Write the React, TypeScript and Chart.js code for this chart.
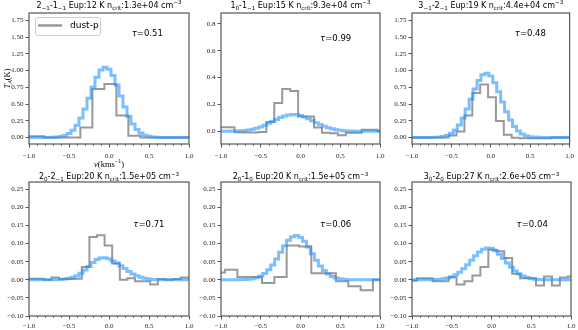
import React, { useEffect, useRef } from "react";
import { Chart, registerables } from "chart.js";

Chart.register(...registerables);

const W = 578;
const H = 330;

// ---------------- data ----------------
const upperJ = ["2", "1", "3", "2", "2", "3"];
const upperK = ["−1", "0", "−1", "0", "0", "0"];
const lowerJ = ["1", "1", "2", "2", "1", "2"];
const lowerK = ["−1", "−1", "−1", "−1", "0", "0"];
const eupK = ["12", "15", "19", "20", "20", "27"];
const nCrit = ["1.3e+04", "9.3e+04", "4.4e+04", "1.5e+05", "1.5e+05", "2.6e+05"];
const tauLabels = ["0.51", "0.99", "0.48", "0.71", "0.06", "0.04"];
const legendLabel = "dust-p";

const xTickValues = [-1.0, -0.5, 0.0, 0.5, 1.0];
const xMinorValues = [-0.9, -0.8, -0.7, -0.6, -0.4, -0.3, -0.2, -0.1, 0.1, 0.2, 0.3, 0.4, 0.6, 0.7, 0.8, 0.9];
const yTicksLarge = [0, 0.25, 0.5, 0.75, 1.0, 1.25, 1.5, 1.75];
const yTicksMid = [0, 0.2, 0.4, 0.6, 0.8];
const yTicksSmall = [-0.1, -0.05, 0, 0.05, 0.1, 0.15, 0.2, 0.25];

// model (blue) velocity grid, km/s
const modelVel = [
  -1.0, -0.95, -0.9, -0.85, -0.8, -0.75, -0.7, -0.65, -0.6, -0.55, -0.5,
  -0.45, -0.4, -0.35, -0.3, -0.25, -0.2, -0.15, -0.1, -0.05, 0.0,
  0.05, 0.1, 0.15, 0.2, 0.25, 0.3, 0.35, 0.4, 0.45, 0.5,
  0.55, 0.6, 0.65, 0.7, 0.75, 0.8, 0.85, 0.9, 0.95, 1.0,
];
const model1 = [0, 0, 0, 0, 0, 0.001, 0.003, 0.007, 0.015, 0.031, 0.06, 0.108, 0.183, 0.29, 0.427, 0.587, 0.753, 0.901, 1.007, 1.05, 1.021, 0.927, 0.785, 0.62, 0.457, 0.315, 0.202, 0.121, 0.068, 0.035, 0.017, 0.008, 0.003, 0.001, 0, 0, 0, 0, 0, 0, 0];
const model2 = [0.0002, 0.0004, 0.0007, 0.0013, 0.0022, 0.0038, 0.0064, 0.0101, 0.0156, 0.023, 0.0326, 0.0443, 0.058, 0.0728, 0.0878, 0.1019, 0.1135, 0.1215, 0.125, 0.1234, 0.1171, 0.1069, 0.0936, 0.0788, 0.0638, 0.0496, 0.037, 0.0266, 0.0183, 0.0121, 0.0077, 0.0047, 0.0028, 0.0015, 0.0008, 0.0004, 0, 0, 0, 0, 0];
const model3 = [0, 0, 0, 0, 0, 0, 0.003, 0.007, 0.016, 0.033, 0.063, 0.113, 0.188, 0.292, 0.424, 0.573, 0.723, 0.852, 0.936, 0.96, 0.918, 0.819, 0.682, 0.53, 0.385, 0.26, 0.164, 0.097, 0.053, 0.027, 0.013, 0.006, 0.0025, 0.001, 0, 0, 0, 0, 0, 0, 0];
const model4 = [0, 0, 0, 0, 0, 0, 0, 0, 0.001, 0.002, 0.004, 0.007, 0.011, 0.018, 0.027, 0.037, 0.048, 0.056, 0.06, 0.061, 0.058, 0.052, 0.046, 0.039, 0.031, 0.023, 0.016, 0.011, 0.007, 0.004, 0.002, 0.001, 0, 0, 0, 0, 0, 0, 0, 0, 0];
const model5 = [0, 0, 0, 0, 0, 0, 0.0007, 0.0015, 0.003, 0.0057, 0.0103, 0.0174, 0.0276, 0.0411, 0.0576, 0.0759, 0.0938, 0.109, 0.119, 0.122, 0.1175, 0.1063, 0.0904, 0.0722, 0.0541, 0.0381, 0.0253, 0.0157, 0.0092, 0.005, 0.0026, 0.0013, 0, 0, 0, 0, 0, 0, 0, 0, 0];
const model6 = [0, 0, 0, 0, 0, 0, 0.0007, 0.0014, 0.0027, 0.0049, 0.0084, 0.0136, 0.0208, 0.0303, 0.0415, 0.0539, 0.0662, 0.0769, 0.0846, 0.088, 0.0864, 0.0804, 0.0708, 0.0589, 0.0464, 0.0346, 0.0244, 0.0162, 0.0102, 0.0061, 0.0034, 0.0018, 0.0009, 0, 0, 0, 0, 0, 0, 0, 0];

// observed (grey) channel centres and brightness
const obsVel1 = [-1.033, -0.883, -0.733, -0.583, -0.433, -0.283, -0.133, 0.017, 0.167, 0.317, 0.467, 0.617, 0.767, 0.917, 1.067];
const obsT1 = [0.02, 0.02, 0.0, 0.0, 0.0, 0.15, 0.725, 0.8, 0.33, 0.025, 0.0, 0.0, 0.0, 0.0, 0.0];
const obsVel2 = [-1.08, -0.98, -0.88, -0.78, -0.68, -0.58, -0.48, -0.38, -0.28, -0.18, -0.08, 0.02, 0.12, 0.22, 0.32, 0.42, 0.52, 0.62, 0.72, 0.82, 0.92, 1.02];
const obsT2 = [0.03, 0.03, 0.03, -0.008, -0.01, -0.01, -0.005, 0.07, 0.21, 0.315, 0.3, 0.11, 0.11, 0.028, -0.012, -0.015, -0.03, -0.012, -0.012, 0.012, 0.012, 0.0];
const obsVel3 = [-1.085, -0.985, -0.885, -0.785, -0.685, -0.585, -0.485, -0.385, -0.285, -0.185, -0.085, 0.015, 0.115, 0.215, 0.315, 0.415, 0.515, 0.615, 0.715, 0.815, 0.915, 1.015];
const obsT3 = [0, 0, 0, 0, 0, 0, 0.03, 0.09, 0.33, 0.665, 0.79, 0.6, 0.245, 0.04, -0.005, -0.01, -0.01, -0.01, -0.01, 0, 0, 0];
const obsVel4 = [-1.0525, -0.9575, -0.8625, -0.7675, -0.6725, -0.5775, -0.4825, -0.3875, -0.2925, -0.1975, -0.1025, -0.0075, 0.0875, 0.1825, 0.2775, 0.3725, 0.4675, 0.5625, 0.6575, 0.7525, 0.8475, 0.9425, 1.0375];
const obsT4 = [0.003, 0.003, 0.003, 0.0, 0.006, 0.002, 0.002, 0.003, 0.035, 0.118, 0.123, 0.095, 0.045, 0.0, 0.004, -0.004, -0.004, -0.013, 0.002, 0.0, 0.002, 0.006, 0.006];
const obsVel5 = [-1.0265, -0.8715, -0.7165, -0.5615, -0.4065, -0.2515, -0.0965, 0.0585, 0.2135, 0.3685, 0.5235, 0.6785, 0.8335, 0.9885, 1.1435];
const obsT5 = [0.02, 0.028, 0.0075, 0.0075, -0.009, 0.0075, 0.095, 0.092, 0.018, 0.018, -0.004, -0.018, -0.029, 0.0, 0.0];
const obsVel6 = [-1.09, -0.99, -0.89, -0.79, -0.69, -0.59, -0.49, -0.39, -0.29, -0.19, -0.09, 0.01, 0.11, 0.21, 0.31, 0.41, 0.51, 0.61, 0.71, 0.81, 0.91, 1.01];
const obsT6 = [-0.003, -0.003, 0.004, 0.004, -0.004, -0.004, 0.007, -0.013, -0.004, 0.012, 0.035, 0.083, 0.079, 0.06, 0.017, 0.004, 0.004, -0.016, 0.009, -0.016, 0.006, 0.009];

// ---------------- layout / style ----------------
type Panel = {
  area: [number, number, number, number];
  yMin: number;
  yMax: number;
  yTicks: number[];
  yDec: number;
  obsV: number[];
  obsT: number[];
  model: number[];
  tauPos: [number, number];
  titleBase: number;
  xPad: number;
};

const panels: Panel[] = [
  { area: [29, 13, 189, 144], yMin: -0.097, yMax: 1.86, yTicks: yTicksLarge, yDec: 2, obsV: obsVel1, obsT: obsT1, model: model1, tauPos: [0.642, 0.155], titleBase: 7.5, xPad: 4 },
  { area: [221, 13, 380, 144], yMin: -0.095, yMax: 0.882, yTicks: yTicksMid, yDec: 1, obsV: obsVel2, obsT: obsT2, model: model2, tauPos: [0.623, 0.19], titleBase: 7.5, xPad: 4 },
  { area: [412, 13, 571, 144], yMin: -0.097, yMax: 1.86, yTicks: yTicksLarge, yDec: 2, obsV: obsVel3, obsT: obsT3, model: model3, tauPos: [0.652, 0.155], titleBase: 7.5, xPad: 4 },
  { area: [29, 182, 189, 316], yMin: -0.1, yMax: 0.27, yTicks: yTicksSmall, yDec: 2, obsV: obsVel4, obsT: obsT4, model: model4, tauPos: [0.652, 0.316], titleBase: 179, xPad: 2 },
  { area: [221, 182, 380, 316], yMin: -0.1, yMax: 0.27, yTicks: yTicksSmall, yDec: 2, obsV: obsVel5, obsT: obsT5, model: model5, tauPos: [0.623, 0.316], titleBase: 179, xPad: 2 },
  { area: [412, 182, 571, 316], yMin: -0.1, yMax: 0.27, yTicks: yTicksSmall, yDec: 2, obsV: obsVel6, obsT: obsT6, model: model6, tauPos: [0.658, 0.316], titleBase: 179, xPad: 2 },
];

const Y_AXIS_W = 29;
const X_AXIS_H = 14;
const SANS = '"DejaVu Sans", sans-serif';
const SERIF = '"Liberation Serif", "DejaVu Serif", serif';
const GREY = "rgba(128,128,128,0.8)";
const BLUE = "rgba(30,144,255,0.58)";
const SPINE = "#555";

type Seg = { t: string; s?: "sub" | "sup"; it?: boolean; fam?: string };

function fmt(v: number, dec: number) {
  const s = Math.abs(v).toFixed(dec);
  return (v < -1e-9 ? "−" : "") + s;
}

function drawSegs(ctx: CanvasRenderingContext2D, segs: Seg[], cx: number, base: number, size: number, align: "center" | "left" = "center") {
  const fontOf = (s: Seg) => {
    const sz = s.s ? size * 0.7 : size;
    return `${s.it ? "italic " : ""}${sz}px ${s.fam || SANS}`;
  };
  const widths = segs.map((s) => {
    ctx.font = fontOf(s);
    return ctx.measureText(s.t).width;
  });
  const total = widths.reduce((a, b) => a + b, 0);
  let x = align === "center" ? cx - total / 2 : cx;
  ctx.textAlign = "left";
  ctx.textBaseline = "alphabetic";
  segs.forEach((s, i) => {
    ctx.font = fontOf(s);
    const dy = s.s === "sub" ? size * 0.25 : s.s === "sup" ? -size * 0.42 : 0;
    ctx.fillText(s.t, x, base + dy);
    x += widths[i];
  });
}

function makeDeco(p: Panel, idx: number) {
  return {
    id: "deco" + idx,
    afterDraw(chart: any) {
      const ctx: CanvasRenderingContext2D = chart.ctx;
      const a = chart.chartArea;
      const xs = chart.scales.x;
      ctx.save();
      // minor x ticks
      ctx.strokeStyle = SPINE;
      ctx.lineWidth = 0.8;
      xMinorValues.forEach((v) => {
        const px = Math.round(xs.getPixelForValue(v)) + 0.5;
        ctx.beginPath();
        ctx.moveTo(px, a.bottom);
        ctx.lineTo(px, a.bottom + 2);
        ctx.stroke();
      });
      // frame
      ctx.strokeStyle = SPINE;
      ctx.lineWidth = 1.2;
      ctx.strokeRect(a.left, a.top, a.right - a.left, a.bottom - a.top);
      // title
      ctx.fillStyle = "#000";
      const title: Seg[] = [
        { t: upperJ[idx] },
        { t: upperK[idx], s: "sub" },
        { t: "-" + lowerJ[idx] },
        { t: lowerK[idx], s: "sub" },
        { t: " Eup:" + eupK[idx] + " K n" },
        { t: "crit", s: "sub" },
        { t: ":" + nCrit[idx] + " cm" },
        { t: "−3", s: "sup" },
      ];
      drawSegs(ctx, title, (a.left + a.right) / 2, p.titleBase, 8);
      // tau label
      const tx = a.left + p.tauPos[0] * (a.right - a.left);
      const ty = a.top + p.tauPos[1] * (a.bottom - a.top) + 3;
      drawSegs(ctx, [{ t: "τ", it: true }, { t: "=" + tauLabels[idx] }], tx, ty, 8.5, "left");
      if (idx === 0) {
        // legend
        const lx = 35, ly = 17, lw = 65, lh = 18;
        ctx.fillStyle = "rgba(255,255,255,0.8)";
        ctx.strokeStyle = "#cccccc";
        ctx.lineWidth = 1;
        ctx.beginPath();
        (ctx as any).roundRect(lx + 0.5, ly + 0.5, lw, lh, 2);
        ctx.fill();
        ctx.stroke();
        ctx.strokeStyle = GREY;
        ctx.lineWidth = 2.5;
        ctx.beginPath();
        ctx.moveTo(38, 25.5);
        ctx.lineTo(62, 25.5);
        ctx.stroke();
        ctx.fillStyle = "#000";
        ctx.font = `9px ${SANS}`;
        ctx.textAlign = "left";
        ctx.textBaseline = "middle";
        ctx.fillText(legendLabel, 70, 26);
        // axis titles
        ctx.fillStyle = "#000";
        drawSegs(ctx, [{ t: "v", it: true, fam: SERIF }, { t: "(kms", fam: SERIF }, { t: "−1", s: "sup", fam: SERIF }, { t: ")", fam: SERIF }], (a.left + a.right) / 2, 167, 8.5);
        ctx.save();
        ctx.translate(9.5, (a.top + a.bottom) / 2);
        ctx.rotate(-Math.PI / 2);
        drawSegs(ctx, [{ t: "T", it: true, fam: SERIF }, { t: "A", s: "sub", it: true, fam: SERIF }, { t: "(K)", fam: SERIF }], 0, 0, 8.5);
        ctx.restore();
      }
      ctx.restore();
    },
  };
}

function makeChart(canvas: HTMLCanvasElement, p: Panel, idx: number) {
  const [L, T, R, B] = p.area;
  const tickFont = { family: SERIF, size: 7 };
  return new Chart(canvas, {
    type: "line",
    data: {
      datasets: [
        {
          label: "model",
          data: modelVel.map((v, i) => ({ x: v, y: p.model[i] })),
          stepped: "middle",
          borderColor: BLUE,
          borderWidth: 3,
          pointRadius: 0,
          fill: false,
          order: 0,
          clip: 0,
          borderJoinStyle: "miter",
        } as any,
        {
          label: legendLabel,
          data: p.obsV.map((v, i) => ({ x: v, y: p.obsT[i] })),
          stepped: "middle",
          borderColor: GREY,
          borderWidth: 2,
          pointRadius: 0,
          fill: false,
          order: 1,
          clip: 0,
          borderJoinStyle: "miter",
        } as any,
      ],
    },
    options: {
      responsive: false,
      animation: false,
      events: [],
      devicePixelRatio: 1,
      layout: { padding: { left: L - Y_AXIS_W, top: T, right: W - R, bottom: H - B - X_AXIS_H } },
      plugins: { legend: { display: false }, tooltip: { enabled: false } },
      scales: {
        x: {
          type: "linear",
          min: -1,
          max: 1,
          afterFit: (s: any) => {
            s.height = X_AXIS_H;
          },
          afterBuildTicks: (s: any) => {
            s.ticks = xTickValues.map((v) => ({ value: v }));
          },
          grid: { drawOnChartArea: false, drawTicks: true, tickLength: 3.5, color: SPINE, lineWidth: 1 },
          border: { display: false },
          ticks: { font: tickFont, color: "#222", padding: p.xPad, autoSkip: false, maxRotation: 0, callback: (v: any) => fmt(Number(v), 1) },
        },
        y: {
          type: "linear",
          min: p.yMin,
          max: p.yMax,
          afterFit: (s: any) => {
            s.width = Y_AXIS_W;
          },
          afterBuildTicks: (s: any) => {
            s.ticks = p.yTicks.map((v) => ({ value: v }));
          },
          grid: { drawOnChartArea: false, drawTicks: true, tickLength: 3.5, color: SPINE, lineWidth: 1 },
          border: { display: false },
          ticks: { font: tickFont, color: "#222", padding: 2, autoSkip: false, callback: (v: any) => fmt(Number(v), p.yDec) },
        },
      },
    } as any,
    plugins: [makeDeco(p, idx) as any],
  });
}

export default function App() {
  const refs = useRef<(HTMLCanvasElement | null)[]>([]);
  useEffect(() => {
    const charts = panels.map((p, i) => makeChart(refs.current[i] as HTMLCanvasElement, p, i));
    return () => charts.forEach((c) => c.destroy());
  }, []);
  return (
    <div style={{ position: "fixed", left: 0, top: 0, width: W, height: H, background: "#fff" }}>
      {panels.map((_, i) => (
        <canvas
          key={i}
          ref={(el) => {
            refs.current[i] = el;
          }}
          width={W}
          height={H}
          style={{ position: "absolute", left: 0, top: 0, width: W, height: H }}
        />
      ))}
    </div>
  );
}
